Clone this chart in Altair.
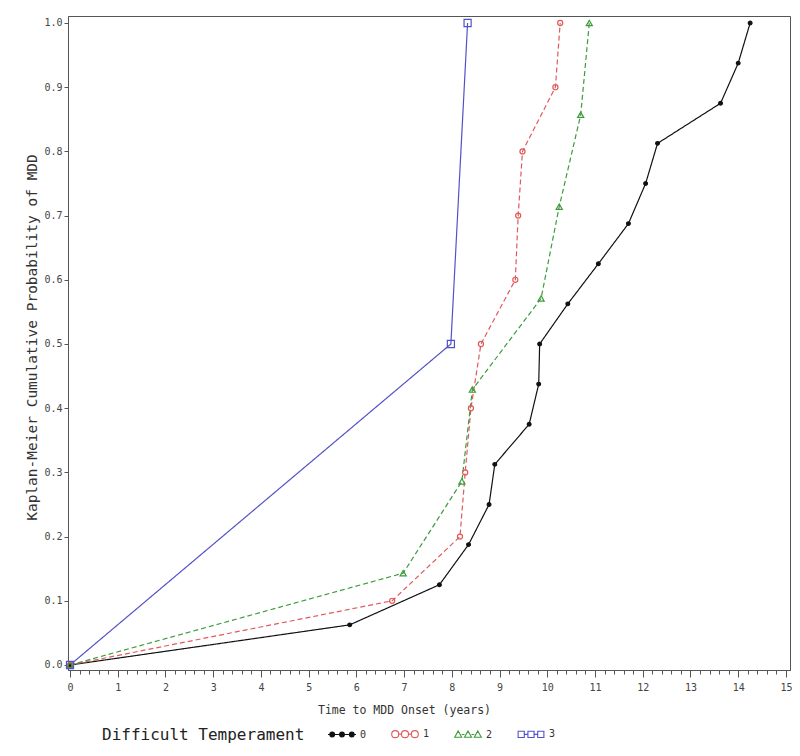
import altair as alt
import pandas as pd

# ---- data ----
groups = ["0", "1", "2", "3"]

t0 = [0, 5.86, 7.74, 8.35, 8.78, 8.90, 9.62, 9.82, 9.84, 10.43, 11.07, 11.70, 12.06, 12.31, 13.63, 14.00, 14.25]
p0 = [0, 0.0625, 0.125, 0.1875, 0.25, 0.3125, 0.375, 0.4375, 0.5, 0.5625, 0.625, 0.6875, 0.75, 0.8125, 0.875, 0.9375, 1.0]

t1 = [0, 6.75, 8.17, 8.28, 8.40, 8.61, 9.33, 9.39, 9.48, 10.17, 10.27]
p1 = [0, 0.1, 0.2, 0.3, 0.4, 0.5, 0.6, 0.7, 0.8, 0.9, 1.0]

t2 = [0, 6.98, 8.21, 8.43, 9.87, 10.25, 10.70, 10.88]
p2 = [0, 0.143, 0.286, 0.429, 0.571, 0.714, 0.857, 1.0]

t3 = [0, 7.98, 8.33]
p3 = [0, 0.5, 1.0]

x_ticks = [round(i * 0.2, 1) for i in range(0, 76)]
y_ticks = [round(i * 0.1, 1) for i in range(0, 11)]

colors = ["#111111", "#e05a5a", "#3c9c3c", "#5252c8"]
fills = ["#111111", "transparent", "transparent", "transparent"]
shapes = ["circle", "circle", "triangle-up", "square"]
sizes = [14, 50, 42, 42]
dashes = [[1, 0], [5, 3], [5, 3], [1, 0]]

rows = []
for g, ts, ps in zip(groups, [t0, t1, t2, t3], [p0, p1, p2, p3]):
    for i, (t, p) in enumerate(zip(ts, ps)):
        rows.append({"g": g, "t": t, "p": p, "i": i})
df = pd.DataFrame(rows)

MONO = "DejaVu Sans Mono"


# ---- legend symbol paths (line with three markers) ----
def circ(cx, r):
    return f"M{cx - r},0A{r},{r} 0 1,0 {cx + r},0A{r},{r} 0 1,0 {cx - r},0Z"


def tri(cx, w):
    return f"M{cx},{-w}L{cx + w},{w * 0.8}L{cx - w},{w * 0.8}Z"


def sq(cx, s):
    return f"M{cx - s},{-s}L{cx + s},{-s}L{cx + s},{s}L{cx - s},{s}Z"


cxs = [-0.7, 0, 0.7]
path0 = "M-1,0L1,0" + "".join(circ(c, 0.17) for c in cxs)
path1 = "M-0.43,0L-0.27,0M0.27,0L0.43,0" + "".join(circ(c, 0.25) for c in cxs)
path2 = "M-0.45,0L-0.25,0M0.25,0L0.45,0" + "".join(tri(c, 0.25) for c in cxs)
path3 = "M-0.45,0L-0.25,0M0.25,0L0.45,0" + "".join(sq(c, 0.22) for c in cxs)
legend_shapes = [path0, path1, path2, path3]

legend = alt.Legend(
    title=None,
    orient="none",
    legendX=259,
    legendY=703,
    direction="horizontal",
    labelFont=MONO,
    labelFontSize=10,
    labelColor="#333333",
    labelOffset=3,
    columnPadding=22,
    symbolSize=784,
    symbolStrokeWidth=1.1,
    symbolOpacity=1,
)

x_enc = alt.X(
    "t:Q",
    scale=alt.Scale(domain=[-0.042, 15.085], nice=False, zero=False),
    axis=alt.Axis(
        title="Time to MDD Onset (years)",
        values=x_ticks,
        labelExpr="abs(datum.value - round(datum.value)) < 0.001 ? format(datum.value, 'd') : ''",
        tickSize={"condition": {"test": "abs(datum.value - round(datum.value)) < 0.001", "value": 7}, "value": 4},
        labelOverlap=False,
        labelFlush=False,
        labelPadding=5,
        grid=False,
        titlePadding=12,
        titleFontSize=11.5,
        titleX=336,
    ),
)
y_enc = alt.Y(
    "p:Q",
    scale=alt.Scale(domain=[-0.0078, 1.0109], nice=False, zero=False),
    axis=alt.Axis(
        title="Kaplan-Meier Cumulative Probability of MDD",
        values=y_ticks,
        format=".1f",
        tickSize=4,
        labelPadding=2,
        grid=False,
        titlePadding=4,
        titleFontSize=14.5,
        titleY=321,
    ),
)

base = alt.Chart(df)

lines = base.mark_line(strokeWidth=1.2).encode(
    color=alt.Color("g:N", scale=alt.Scale(domain=groups, range=colors), legend=None),
    strokeDash=alt.StrokeDash("g:N", scale=alt.Scale(domain=groups, range=dashes), legend=None),
    order="i:Q",
)

points = base.mark_point(strokeWidth=1.2, opacity=1).encode(
    shape=alt.Shape("g:N", scale=alt.Scale(domain=groups, range=shapes), legend=None),
    stroke=alt.Stroke("g:N", scale=alt.Scale(domain=groups, range=colors), legend=None),
    fill=alt.Fill("g:N", scale=alt.Scale(domain=groups, range=fills), legend=None),
    size=alt.Size("g:N", scale=alt.Scale(domain=groups, range=sizes), legend=None),
)

# legend-only layer: no marks drawn (all rows filtered out), explicit domains give the legend
legend_layer = base.transform_filter("false").mark_point(strokeWidth=1.1, opacity=1).encode(
    shape=alt.Shape("g:N", scale=alt.Scale(domain=groups, range=legend_shapes), legend=legend),
    stroke=alt.Stroke("g:N", scale=alt.Scale(domain=groups, range=colors), legend=legend),
    fill=alt.Fill("g:N", scale=alt.Scale(domain=groups, range=fills), legend=legend),
)

chart = (
    alt.layer(lines, points, legend_layer)
    .encode(x=x_enc, y=y_enc)
    .resolve_scale(color="independent", stroke="independent", fill="independent",
                   shape="independent", size="independent", strokeDash="independent")
    .properties(
        width=722,
        height=654,
        autosize=alt.AutoSizeParams(type="none"),
        padding={"left": 60, "top": 8, "right": 2, "bottom": 76},
        background="white",
        title=alt.TitleParams(
            "Difficult Temperament",
            orient="bottom",
            anchor="start",
            frame="group",
            dx=34,
            offset=-13,
            font=MONO,
            fontSize=16,
            fontWeight="normal",
            color="#222222",
            baseline="top",
        ),
    )
    .configure_view(stroke="#555555", strokeWidth=1)
    .configure_axis(
        labelFont=MONO,
        labelFontSize=10,
        labelColor="#444444",
        titleFont=MONO,
        titleFontWeight="normal",
        titleColor="#333333",
        tickColor="#555555",
        domainColor="#555555",
    )
)

chart.save("out.html", embed_options={"renderer": "svg", "actions": False})
